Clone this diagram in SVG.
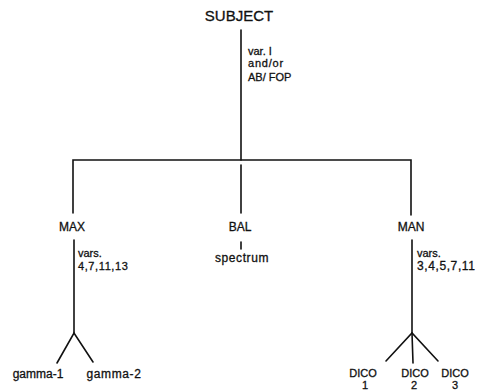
<svg xmlns="http://www.w3.org/2000/svg" width="482" height="390" viewBox="0 0 482 390">
<style>
text{font-family:"Liberation Sans",Arial,sans-serif;fill:#111;stroke:#111;stroke-width:0.3;}
.big{font-size:15px;}
.lbl{font-size:12px;}
.note{font-size:11px;}
.ln{stroke:#111;stroke-width:1.6;fill:none;stroke-linecap:round;}
</style>
<rect width="482" height="390" fill="#fff"/>
<g id="connectors">
<line class="ln" x1="241" y1="30" x2="241" y2="160"/>
<polyline class="ln" points="73,213 73,160 411,160 411,215"/>
<line class="ln" x1="241" y1="165" x2="241" y2="213"/>
<line class="ln" x1="241" y1="242" x2="241" y2="249"/>
<line class="ln" x1="74" y1="240" x2="74" y2="333"/>
<polyline class="ln" points="57,363 74,333 93,362"/>
<line class="ln" x1="412" y1="240" x2="412" y2="333"/>
<polyline class="ln" points="386,361 412,333 438,361"/>
<line class="ln" x1="412" y1="333" x2="413" y2="363"/>
</g>
<g id="subject">
<text class="big" x="239" y="21" text-anchor="middle">SUBJECT</text>
<text class="note" x="248" y="55">var. I</text>
<text class="note" x="248" y="67" letter-spacing="0.8">and/or</text>
<text class="note" x="248" y="81">AB/ FOP</text>
</g>
<g id="max">
<text class="lbl" x="72" y="231" text-anchor="middle">MAX</text>
<text class="note" x="78" y="257">vars.</text>
<text class="note" x="78" y="270" letter-spacing="0.6">4,7,11,13</text>
</g>
<g id="bal">
<text class="lbl" x="240" y="231" text-anchor="middle">BAL</text>
<text class="lbl" x="242" y="262" text-anchor="middle" letter-spacing="0.6">spectrum</text>
</g>
<g id="man">
<text class="lbl" x="411" y="231" text-anchor="middle">MAN</text>
<text class="note" x="417" y="257">vars.</text>
<text class="lbl" x="417" y="270" letter-spacing="0.6">3,4,5,7,11</text>
</g>
<g id="gamma1"><text class="lbl" x="38" y="378" text-anchor="middle">gamma-1</text></g>
<g id="gamma2"><text class="lbl" x="114" y="378" text-anchor="middle" letter-spacing="0.6">gamma-2</text></g>
<g id="dico1"><text class="note" x="363" y="377" text-anchor="middle">DICO</text><text class="note" x="365" y="389" text-anchor="middle">1</text></g>
<g id="dico2"><text class="note" x="415" y="377" text-anchor="middle">DICO</text><text class="note" x="414" y="389" text-anchor="middle">2</text></g>
<g id="dico3"><text class="note" x="455" y="377" text-anchor="middle">DICO</text><text class="note" x="455" y="389" text-anchor="middle">3</text></g>
</svg>
